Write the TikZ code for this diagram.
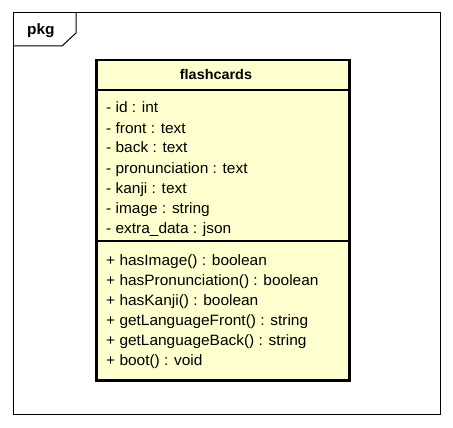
\documentclass[tikz,border=0pt]{standalone}
\usepackage{fontspec}
\setmainfont{Liberation Sans}
\newfontfamily\umlfont[FakeStretch=1.03]{Liberation Sans}
\usetikzlibrary{positioning}
\definecolor{classyellow}{RGB}{254,254,206}

\begin{document}
\begin{tikzpicture}[x=1pt, y=-1pt]
    \tikzstyle{frame} = [draw=black, line width=1pt]
    \tikzstyle{classbox} = [rectangle, draw=black, fill=classyellow, line width=2.5pt, minimum width=253pt, minimum height=320pt, anchor=north west, inner sep=0pt]
    \tikzstyle{member} = [anchor=base west, inner sep=0pt, font=\umlfont\fontsize{15}{18}\selectfont]
    \tikzstyle{sep} = [draw=black, line width=1.2pt]

    \useasboundingbox (0,0) rectangle (453,428);

    % package frame with its tab
    \draw [frame] (13,13) rectangle (440,414);
    \draw [frame] (76,13) -- (76,33) -- (62,46) -- (13,46);
    \node (pkg) [member, font=\umlfont\fontsize{15}{18}\selectfont\bfseries] at (27,35) {pkg};

    % class flashcards
    \node (cls) [classbox] at (95,59) {};
    \node (title) [member, anchor=base, font=\umlfont\fontsize{14}{17}\selectfont\bfseries] at (216,80) {flashcards};
    \draw [sep] (95,90) -- (348,90);
    \draw [sep] (95,241) -- (348,241);

    \foreach \txt [count=\i from 0] in {- id : int, - front : text, - back : text, - pronunciation : text, - kanji : text, - image : string, - extra\_data : json}
        \node (attr\i) [member] at (106,113+20*\i) {\txt};

    \foreach \txt [count=\i from 0] in {+ hasImage() : boolean, + hasPronunciation() : boolean, + hasKanji() : boolean, + getLanguageFront() : string, + getLanguageBack() : string, + boot() : void}
        \node (op\i) [member] at (106,265+20*\i) {\txt};
\end{tikzpicture}
\end{document}
